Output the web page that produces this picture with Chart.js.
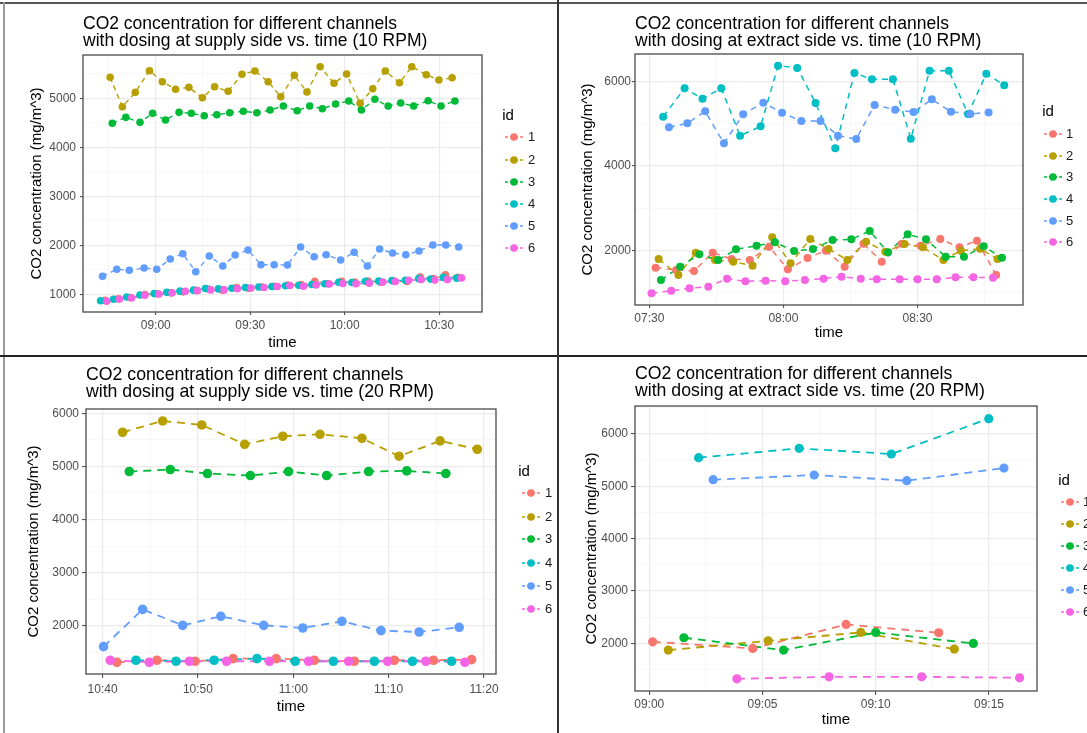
<!DOCTYPE html>
<html><head><meta charset="utf-8">
<script src="https://cdn.jsdelivr.net/npm/chart.js@4.4.1/dist/chart.umd.min.js"></script>
<style>
html,body{margin:0;padding:0;background:#fff;width:1087px;height:733px;overflow:hidden;}
#wrap{position:relative;width:1087px;height:733px;background:#fff;}
canvas{position:absolute;left:0;top:0;}
.ln{position:absolute;}
</style></head><body>
<div id="wrap">
<canvas id="c1" width="1087" height="733"></canvas>
<canvas id="c2" width="1087" height="733"></canvas>
<canvas id="c3" width="1087" height="733"></canvas>
<canvas id="c4" width="1087" height="733"></canvas>
<div class="ln" style="left:0;top:2px;width:1087px;height:2px;background:#555"></div>
<div class="ln" style="left:3px;top:2px;width:2px;height:731px;background:#9a9a9a"></div>
<div class="ln" style="left:0;top:355px;width:1087px;height:2px;background:#222"></div>
<div class="ln" style="left:557px;top:0;width:2px;height:733px;background:#333"></div>
</div>
<script>
// ---------- DATA (time = minutes after midnight, CO2 in mg/m^3) ----------
const ids = ['1','2','3','4','5','6'];

// Panel 1: supply side, 10 RPM
const p1_time_id1 = [523.9,528,532,536.6,540.5,544.8,548.7,553,557,561.2,565.7,569.5,573.7,577.7,582,586.2,590.5,594.7,599,603.2,607.4,611.4,615.6,619.8,624,628.2,632,636];
const p1_co2_id1  = [880,910,935,995,1010,1030,1050,1080,1100,1085,1140,1125,1150,1165,1190,1200,1265,1215,1265,1250,1270,1245,1270,1260,1350,1320,1400,1345];
const p1_time_id2 = [525.5,529.4,533.5,538,542.1,546.3,550.5,554.8,558.7,563,567.4,571.5,575.7,579.7,584,588,592.2,596.6,600.6,604.9,608.9,612.9,617.4,621.3,625.9,629.9,634.1];
const p1_co2_id2  = [5429,4829,5122,5564,5339,5184,5224,5012,5237,5143,5490,5557,5339,5033,5469,5129,5645,5306,5496,4898,5196,5557,5318,5645,5482,5373,5420];
const p1_time_id3 = [526.2,530.5,535,539,543.1,547.4,551.3,555.4,559.4,563.5,567.8,572.1,576.3,580.5,584.9,588.9,592.9,597.1,601.3,605.3,609.6,613.8,617.8,621.9,626.5,630.6,635];
const p1_co2_id3  = [4490,4612,4510,4694,4557,4714,4694,4645,4665,4706,4735,4706,4761,4843,4747,4843,4788,4884,4945,4761,4980,4843,4904,4843,4951,4843,4945];
const p1_time_id4 = [522.5,526.6,530.8,535,539.5,543.5,547.7,552,555.8,559.9,564.2,568.5,572.7,576.9,581.2,585.4,589.6,593.7,598.1,602.3,606.6,610.8,615,619.3,623.5,627.3,631.3,635.6];
const p1_co2_id4  = [870,900,945,985,1015,1040,1065,1085,1120,1110,1125,1140,1150,1160,1175,1185,1200,1215,1245,1240,1265,1270,1280,1285,1320,1310,1345,1330];
const p1_time_id5 = [523.1,527.6,531.6,536.3,540.3,544.6,548.6,552.7,557,561.3,565.2,569.3,573.4,577.6,581.8,586,590.3,594.1,598.7,603,607.2,611.1,615.2,619.4,623.6,628,632.1,636.2];
const p1_co2_id5  = [1367,1510,1490,1537,1510,1720,1829,1461,1782,1578,1802,1904,1604,1604,1598,1965,1767,1808,1700,1857,1578,1925,1843,1808,1884,2006,2006,1965];
const p1_time_id6 = [524.4,528.5,532.3,536.5,541,545.2,549.4,553.2,557.5,561.7,565.9,570.2,574.4,578.6,582.6,586.9,590.9,595.1,599.4,603.6,607.8,612.1,616.1,620.3,624.3,628.6,632.6,637.1];
const p1_co2_id6  = [860,905,925,980,1005,1030,1060,1075,1090,1090,1115,1130,1140,1160,1180,1165,1190,1210,1220,1215,1225,1250,1260,1285,1300,1290,1300,1335];

// Panel 2: extract side, 10 RPM
const p2_time_id1 = [451.4,456,460,464.2,468.4,472.5,476.8,481,485.4,489.5,493.7,497.9,502,506.5,510.7,515.1,519.4,523.3,527.6];
const p2_co2_id1  = [1587,1532,1508,1943,1793,1769,2086,1548,1817,1991,1611,2157,1730,2157,2109,2267,2070,2228,1413];
const p2_time_id2 = [452.1,456.5,460.4,464.7,468.8,473.1,477.5,481.6,486,490.1,494.3,498.5,502.8,507.1,511.2,515.8,519.7,524,527.9];
const p2_co2_id2  = [1793,1413,1943,1769,1730,1635,2307,1690,2267,2030,1769,2204,1967,2149,2070,1769,1991,2038,1793];
const p2_time_id3 = [452.6,456.9,461.2,465.4,469.4,474,478.1,482.4,486.6,491,495.2,499.3,503.4,507.8,511.9,516.3,520.4,524.8,528.9];
const p2_co2_id3  = [1295,1611,1904,1769,2022,2109,2188,1983,2030,2244,2260,2457,1951,2378,2260,1848,1848,2093,1825];
const p2_time_id4 = [453.1,457.9,461.9,466.1,470.3,474.9,478.8,483.1,487.2,491.6,495.9,499.8,504.5,508.5,512.7,517,521.3,525.4,529.4];
const p2_co2_id4  = [5170,5842,5597,5842,4719,4940,6380,6324,5494,4418,6206,6055,6055,4648,6261,6261,5233,6190,5913];
const p2_time_id5 = [454.4,458.5,462.5,466.7,471,475.5,479.7,484,488.3,492.2,496.3,500.4,505,509.1,513.2,517.5,521.8,525.9];
const p2_co2_id5  = [4917,5012,5296,4537,5225,5502,5265,5067,5067,4719,4640,5446,5336,5280,5581,5288,5233,5272];
const p2_time_id6 = [450.5,454.9,459,463.2,467.4,471.5,476,480.4,484.8,489,493,497.3,500.9,506,510,514.3,518.5,522.5,526.9];
const p2_co2_id6  = [978,1042,1097,1137,1326,1263,1279,1263,1295,1326,1374,1326,1310,1310,1310,1310,1358,1358,1350];

// Panel 3: supply side, 20 RPM
const p3_time_id1 = [641.5,645.7,649.7,653.7,658.2,662.2,666.4,670.6,674.7,678.7];
const p3_co2_id1  = [1313,1351,1332,1382,1382,1351,1332,1351,1351,1363];
const p3_time_id2 = [642.1,646.3,650.4,654.9,658.9,662.8,667.2,671.1,675.4,679.3];
const p3_co2_id2  = [5643,5856,5781,5417,5568,5605,5530,5192,5480,5323];
const p3_time_id3 = [642.8,647.1,651,655.5,659.5,663.5,667.9,671.9,676];
const p3_co2_id3  = [4903,4941,4866,4828,4903,4828,4903,4916,4866];
const p3_time_id4 = [643.5,647.7,651.7,656.2,660.2,664.2,668.5,672.5,676.6];
const p3_co2_id4  = [1351,1332,1351,1382,1332,1332,1332,1332,1332];
const p3_time_id5 = [640.1,644.2,648.4,652.4,656.9,661,665.1,669.2,673.2,677.4];
const p3_co2_id5  = [1607,2309,2008,2178,2008,1958,2084,1908,1883,1971];
const p3_time_id6 = [640.8,644.9,649.1,653,657.5,661.6,665.8,669.9,673.9,678];
const p3_co2_id6  = [1351,1313,1332,1332,1332,1332,1332,1332,1332,1313];

// Panel 4: extract side, 20 RPM
const p4_time_id1 = [540.15,544.57,548.69,552.78];
const p4_co2_id1  = [2032,1905,2363,2204];
const p4_time_id2 = [540.84,545.25,549.34,553.47];
const p4_co2_id2  = [1873,2051,2210,1892];
const p4_time_id3 = [541.53,545.93,550,554.31];
const p4_co2_id3  = [2109,1873,2210,2000];
const p4_time_id4 = [542.18,546.62,550.69,554.99];
const p4_co2_id4  = [5548,5726,5618,6293];
const p4_time_id5 = [542.82,547.28,551.37,555.66];
const p4_co2_id5  = [5127,5217,5108,5350];
const p4_time_id6 = [543.87,547.94,552.03,556.35];
const p4_co2_id6  = [1325,1363,1363,1344];

// Tick labels
const p1_xMajor = ['09:00','09:30','10:00','10:30'];
const p1_xMinor = ['08:45','09:15','09:45','10:15'];
const p1_yMajor = [1000,2000,3000,4000,5000];
const p1_yMinor = [1500,2500,3500,4500,5500];
const p2_xMajor = ['07:30','08:00','08:30'];
const p2_xMinor = ['07:45','08:15','08:45'];
const p2_yMajor = [2000,4000,6000];
const p2_yMinor = [1000,3000,5000];
const p3_xMajor = ['10:40','10:50','11:00','11:10','11:20'];
const p3_xMinor = ['10:45','10:55','11:05','11:15'];
const p3_yMajor = [2000,3000,4000,5000,6000];
const p3_yMinor = [1500,2500,3500,4500,5500];
const p4_xMajor = ['09:00','09:05','09:10','09:15'];
const p4_xMinor = ['09:02:30','09:07:30','09:12:30'];
const p4_yMajor = [2000,3000,4000,5000,6000];
const p4_yMinor = [1500,2500,3500,4500,5500,6500];

const p1_title = ['CO2 concentration for different channels','with dosing at supply side vs. time (10 RPM)'];
const p2_title = ['CO2 concentration for different channels','with dosing at extract side vs. time (10 RPM)'];
const p3_title = ['CO2 concentration for different channels','with dosing at supply side vs. time (20 RPM)'];
const p4_title = ['CO2 concentration for different channels','with dosing at extract side vs. time (20 RPM)'];
const yAxisTitle = 'CO2 concentration (mg/m^3)';
const xAxisTitle = 'time';
const legendTitle = 'id';

// ---------- STYLE / LAYOUT ----------
const FONT = '"Liberation Sans", Arial, Helvetica, sans-serif';
const COLORS = ['#F8766D','#B79F00','#00BA38','#00BFC4','#619CFF','#F564E3'];
function toMin(s){const p=s.split(':').map(Number);return p[0]*60+p[1]+(p[2]||0)/60;}

const panels = [
 {id:'c1', title:p1_title, times:[p1_time_id1,p1_time_id2,p1_time_id3,p1_time_id4,p1_time_id5,p1_time_id6],
  values:[p1_co2_id1,p1_co2_id2,p1_co2_id3,p1_co2_id4,p1_co2_id5,p1_co2_id6],
  xMajor:p1_xMajor,xMinor:p1_xMinor,yMajor:p1_yMajor,yMinor:p1_yMinor,
  plot:[83,55,482,312], xMin:516.9,xMax:643.6,yMin:639,yMax:5884,
  yTitleX:37,xTitleY:343,tick:3,yPad:4,xPad:3,r:3.8,lw:1.4,dash:[5,4],titleBase:[28.6,45.8],titleSize:17.5,
  legend:{idX:508,idY:116,keyX:514,labX:528,rows:[137,160,182,204,226,248]}},
 {id:'c2', title:p2_title, times:[p2_time_id1,p2_time_id2,p2_time_id3,p2_time_id4,p2_time_id5,p2_time_id6],
  values:[p2_co2_id1,p2_co2_id2,p2_co2_id3,p2_co2_id4,p2_co2_id5,p2_co2_id6],
  xMajor:p2_xMajor,xMinor:p2_xMinor,yMajor:p2_yMajor,yMinor:p2_yMinor,
  plot:[635,54,1023,305], xMin:446.8,xMax:533.6,yMin:702,yMax:6657,
  yTitleX:588,xTitleY:333,tick:3,yPad:1,xPad:3,r:4,lw:1.5,dash:[6,5],titleBase:[28.6,45.8],titleSize:17.5,
  legend:{idX:1048,idY:112,keyX:1053,labX:1066,rows:[134,156,177,199,221,242]}},
 {id:'c3', title:p3_title, times:[p3_time_id1,p3_time_id2,p3_time_id3,p3_time_id4,p3_time_id5,p3_time_id6],
  values:[p3_co2_id1,p3_co2_id2,p3_co2_id3,p3_co2_id4,p3_co2_id5,p3_co2_id6],
  xMajor:p3_xMajor,xMinor:p3_xMinor,yMajor:p3_yMajor,yMinor:p3_yMinor,
  plot:[86,409,496,674], xMin:638.26,xMax:681.26,yMin:1092,yMax:6081,
  yTitleX:34,xTitleY:707,tick:4,yPad:3,xPad:4,r:4.8,lw:1.8,dash:[8,6],titleBase:[380,397.3],titleSize:17.7,
  legend:{idX:524,idY:472,keyX:531,labX:545,rows:[493,517,539,563,586,609]}},
 {id:'c4', title:p4_title, times:[p4_time_id1,p4_time_id2,p4_time_id3,p4_time_id4,p4_time_id5,p4_time_id6],
  values:[p4_co2_id1,p4_co2_id2,p4_co2_id3,p4_co2_id4,p4_co2_id5,p4_co2_id6],
  xMajor:p4_xMajor,xMinor:p4_xMinor,yMajor:p4_yMajor,yMinor:p4_yMinor,
  plot:[635,406,1037,691], xMin:539.37,xMax:557.12,yMin:1092,yMax:6535,
  yTitleX:592,xTitleY:720,tick:4,yPad:3,xPad:2,r:4.6,lw:1.8,dash:[8,6],titleBase:[379,396],titleSize:17.7,
  legend:{idX:1064,idY:481,keyX:1070,labX:1083,rows:[502,524,546,568,590,612]}}
];

const decoPlugin = {
  id:'deco',
  afterDatasetsDraw(chart){
    const ca = chart.chartArea, ctx = chart.ctx;
    ctx.save();
    ctx.strokeStyle = '#4a4a4a'; ctx.lineWidth = 1.3; ctx.setLineDash([]);
    ctx.strokeRect(ca.left, ca.top, ca.right-ca.left, ca.bottom-ca.top);
    ctx.restore();
  },
  afterDraw(chart){
    const P = chart.options.plugins.deco.panel, ctx = chart.ctx;
    ctx.save();
    ctx.fillStyle = '#000';
    ctx.font = P.titleSize + 'px ' + FONT;
    ctx.textAlign = 'left'; ctx.textBaseline = 'alphabetic';
    P.title.forEach((t,i)=>ctx.fillText(t, P.plot[0], P.titleBase[i]));
    const lg = P.legend;
    ctx.font = '15px ' + FONT; ctx.textAlign = 'center'; ctx.textBaseline = 'middle';
    ctx.fillText(legendTitle, lg.idX, lg.idY);
    for (let i=0;i<6;i++){
      const y = lg.rows[i];
      ctx.strokeStyle = COLORS[i]; ctx.lineWidth = 1.6; ctx.setLineDash([3,2]);
      ctx.beginPath(); ctx.moveTo(lg.keyX-9, y); ctx.lineTo(lg.keyX+9, y); ctx.stroke();
      ctx.setLineDash([]);
      ctx.fillStyle = COLORS[i];
      ctx.beginPath(); ctx.arc(lg.keyX, y, 3.8, 0, Math.PI*2); ctx.fill();
      ctx.fillStyle = '#1a1a1a'; ctx.font = '13px ' + FONT; ctx.textAlign = 'left';
      ctx.fillText(ids[i], lg.labX, y+0.5);
    }
    ctx.restore();
  }
};

function makeChart(P){
  const W = 65, H = 45;
  const [L,T,R,B] = P.plot;
  const xMajorV = P.xMajor.map(toMin), xMinorV = P.xMinor.map(toMin);
  const xLabel = new Map(); xMajorV.forEach((v,i)=>xLabel.set(v, P.xMajor[i]));
  const yMajSet = new Set(P.yMajor);
  const xTicks = xMajorV.concat(xMinorV).sort((a,b)=>a-b);
  const yTicks = P.yMajor.concat(P.yMinor).sort((a,b)=>a-b);
  const datasets = [];
  for (let i=0;i<6;i++){
    datasets.push({label:'id '+ids[i], data:P.times[i].map((t,k)=>({x:t,y:P.values[i][k]})),
      borderColor:COLORS[i], borderWidth:P.lw, borderDash:P.dash, pointRadius:0, pointHoverRadius:0,
      fill:false, tension:0, order:20-i});
  }
  for (let i=0;i<6;i++){
    datasets.push({label:'id '+ids[i], data:P.times[i].map((t,k)=>({x:t,y:P.values[i][k]})),
      showLine:false, pointRadius:P.r, pointBackgroundColor:COLORS[i], pointBorderColor:COLORS[i],
      pointBorderWidth:0, order:10-i});
  }
  const gridColor = isMaj => isMaj ? '#EBEBEB' : '#F5F5F5';
  return new Chart(document.getElementById(P.id), {
    type:'line',
    data:{datasets},
    plugins:[decoPlugin],
    options:{
      responsive:false, animation:false, devicePixelRatio:1,
      layout:{padding:{left:L-W, top:T, right:1087-R, bottom:733-B-H}},
      plugins:{legend:{display:false}, title:{display:false}, tooltip:{enabled:false}, deco:{panel:P}},
      events:[],
      scales:{
        x:{type:'linear', min:P.xMin, max:P.xMax,
          afterBuildTicks:s=>{ s.ticks = xTicks.map(v=>({value:v})); },
          afterFit:s=>{ s.height = H; },
          border:{display:false},
          grid:{color:c=>gridColor(xLabel.has(c.tick.value)), lineWidth:c=>xLabel.has(c.tick.value)?1.2:0.8,
                tickLength:P.tick, drawTicks:true,
                tickColor:c=>xLabel.has(c.tick.value)?'#444':'rgba(0,0,0,0)', tickWidth:1},
          ticks:{autoSkip:false, maxRotation:0, minRotation:0, padding:P.xPad, color:'#4D4D4D',
                 font:{family:FONT,size:12}, callback:v=>xLabel.has(v)?xLabel.get(v):''},
          title:{display:true, text:xAxisTitle, color:'#000', font:{family:FONT,size:15},
                 padding:{top:0,bottom:B+H-9-P.xTitleY}}
        },
        y:{type:'linear', min:P.yMin, max:P.yMax,
          afterBuildTicks:s=>{ s.ticks = yTicks.map(v=>({value:v})); },
          afterFit:s=>{ s.width = W; },
          border:{display:false},
          grid:{color:c=>gridColor(yMajSet.has(c.tick.value)), lineWidth:c=>yMajSet.has(c.tick.value)?1.2:0.8,
                tickLength:P.tick, drawTicks:true,
                tickColor:c=>yMajSet.has(c.tick.value)?'#444':'rgba(0,0,0,0)', tickWidth:1},
          ticks:{autoSkip:false, padding:P.yPad, color:'#4D4D4D', font:{family:FONT,size:12},
                 callback:v=>yMajSet.has(v)?String(v):''},
          title:{display:true, text:yAxisTitle, color:'#000', font:{family:FONT,size:15},
                 padding:{top:P.yTitleX-(L-W)-9,bottom:0}}
        }
      }
    }
  });
}
panels.forEach(makeChart);
</script>
</body></html>
